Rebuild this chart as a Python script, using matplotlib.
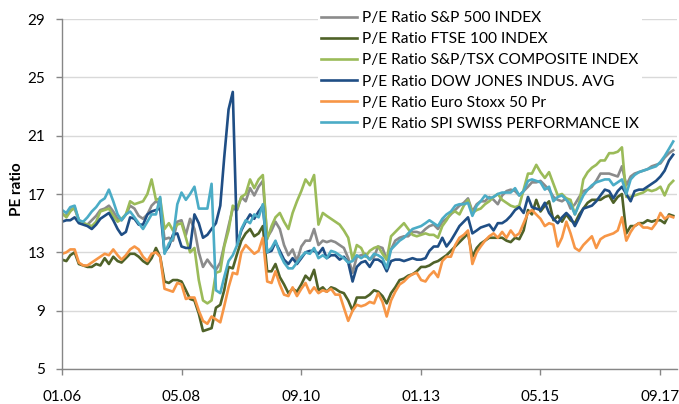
import matplotlib
matplotlib.use("Agg")
import matplotlib.pyplot as plt
import matplotlib.dates as mdates
import pandas as pd
import numpy as np

plt.rcParams['font.family'] = ['Lato', 'DejaVu Sans']

dates = pd.date_range('2006-01-01', periods=144, freq='MS')

sp500 = [15.6,15.5,15.9,16.0,15.2,15.0,14.9,15.2,15.5,15.9,16.0,16.2,
         15.8,15.3,15.2,15.6,16.2,16.0,15.5,15.3,15.6,16.2,16.5,16.3,
         13.9,14.0,13.8,15.1,15.2,14.2,15.3,14.6,13.0,12.0,12.5,12.1,
         11.8,12.3,13.5,14.8,16.0,15.9,16.8,16.5,17.4,16.9,17.5,17.9,
         14.0,14.5,15.1,14.6,13.5,12.8,13.2,12.4,13.4,13.8,13.8,14.6,
         13.5,13.8,13.7,13.8,13.7,13.5,13.3,12.6,11.6,12.7,12.8,12.9,
         12.5,12.7,13.4,13.3,12.5,13.2,13.8,14.0,14.1,14.1,14.4,14.4,
         14.3,14.6,14.8,14.9,14.6,15.1,15.3,15.6,15.9,16.2,16.4,16.7,
         15.8,16.3,16.5,16.5,16.8,16.6,16.3,16.9,17.2,17.3,17.2,16.9,
         17.2,17.5,17.8,17.8,17.9,17.6,17.3,16.8,16.6,16.5,16.7,16.0,
         16.3,16.8,17.2,17.3,17.5,17.9,18.4,18.4,18.4,18.3,18.2,18.9,
         17.6,18.2,18.4,18.5,18.6,18.7,18.9,19.0,19.1,19.5,19.8,20.0]

ftse = [12.5,12.4,12.8,13.0,12.2,12.1,12.0,12.0,12.2,12.1,12.6,12.2,
        12.7,12.4,12.3,12.6,12.9,12.9,12.7,12.4,12.2,12.6,13.3,12.7,
        11.0,10.9,11.1,11.1,11.0,10.4,9.8,9.7,8.8,7.6,7.7,7.8,
        9.2,9.4,10.4,12.0,11.9,12.9,13.8,14.3,14.6,14.1,14.3,14.8,
        11.7,11.7,12.2,11.3,10.8,10.2,10.5,10.3,10.8,11.4,11.1,11.8,
        10.4,10.6,10.3,10.6,10.5,10.3,10.2,9.7,9.0,9.9,9.9,9.9,
        10.1,10.4,10.3,10.0,9.5,10.2,10.6,11.1,11.2,11.4,11.5,11.7,
        12.0,12.0,12.1,12.3,12.4,12.6,12.8,13.1,13.4,13.7,14.0,14.3,
        12.7,13.3,13.6,13.8,14.0,14.0,14.0,14.0,13.8,13.7,14.0,13.9,
        14.5,15.9,15.6,16.6,15.8,16.2,16.5,15.2,15.5,15.1,15.6,15.2,
        15.0,15.6,16.0,16.4,16.6,16.6,16.6,16.8,16.9,16.4,16.8,17.0,
        14.3,14.8,14.8,15.0,15.0,15.2,15.1,15.2,15.2,15.0,15.6,15.5]

tsx = [15.7,15.4,15.8,16.1,15.2,15.0,14.9,14.8,15.1,15.8,15.9,16.0,
       15.5,15.1,15.3,15.6,16.5,16.3,16.4,16.5,17.0,18.0,16.6,16.7,
       14.6,15.0,14.5,14.9,15.0,14.0,13.0,13.3,11.1,9.7,9.5,9.7,
       11.6,11.7,13.4,14.5,16.2,16.0,16.8,17.0,18.0,17.4,18.0,18.3,
       13.9,14.8,15.4,15.7,15.1,14.6,15.7,16.5,17.2,18.0,17.6,18.3,
       14.9,15.7,15.5,15.3,15.1,14.9,14.5,14.0,12.5,13.5,13.3,12.7,
       13.1,13.3,13.4,12.9,12.5,14.1,14.4,14.7,15.0,14.6,14.2,14.1,
       14.2,14.3,14.2,14.2,14.0,14.8,15.2,15.7,15.8,15.6,16.2,16.6,
       15.7,15.9,16.0,16.3,16.5,16.8,17.0,16.6,16.4,16.2,16.1,16.2,
       17.3,18.4,18.4,19.0,18.5,18.1,18.5,17.7,16.9,17.0,16.7,16.6,
       15.6,16.4,18.0,18.5,18.8,19.0,19.3,19.3,19.8,19.8,19.9,20.2,
       16.8,16.8,16.9,17.0,17.1,17.3,17.2,17.3,17.5,16.9,17.6,17.9]

dow = [15.1,15.2,15.2,15.4,15.0,14.9,14.8,14.6,14.9,15.3,15.5,15.7,
       15.2,14.6,14.2,14.4,15.4,15.3,14.9,14.9,15.6,15.8,15.9,16.0,
       13.0,13.4,14.2,14.3,13.4,13.3,13.3,15.6,15.0,14.0,14.2,14.6,
       15.0,16.2,19.5,22.8,24.0,13.5,14.5,15.1,15.6,15.3,15.8,16.2,
       13.0,13.1,13.7,13.1,12.5,12.2,12.6,12.2,12.6,13.0,13.1,13.1,
       12.9,13.3,12.6,12.8,12.8,12.5,12.7,12.3,11.0,12.0,12.3,12.4,
       12.0,12.5,12.5,12.3,11.7,12.4,12.5,12.5,12.4,12.5,12.6,12.5,
       12.5,12.6,13.1,13.4,13.4,14.0,13.4,13.8,14.3,14.8,15.1,15.4,
       14.3,14.5,14.7,14.8,14.9,14.5,15.0,15.0,15.2,15.5,15.9,16.1,
       15.7,16.8,16.1,16.0,15.9,16.4,15.7,15.3,15.0,15.4,15.7,15.4,
       14.8,15.4,16.0,16.1,16.2,16.5,16.9,17.3,17.2,16.7,17.2,17.5,
       17.0,16.5,17.2,17.3,17.3,17.5,17.7,17.9,18.2,18.6,19.3,19.7]

stoxx = [12.9,13.0,13.2,13.2,12.3,12.1,12.1,12.3,12.5,12.7,12.9,12.8,
         13.2,12.8,12.5,12.8,13.2,13.4,13.2,12.7,12.4,12.9,13.0,12.7,
         10.5,10.4,10.3,10.9,10.8,9.8,9.9,9.9,9.0,8.3,8.1,8.6,
         8.4,8.2,9.3,10.6,11.6,11.5,13.0,13.5,13.2,12.9,13.1,14.0,
         11.0,10.9,11.7,10.8,10.1,10.0,10.6,10.0,10.5,10.9,10.2,10.6,
         10.2,10.4,10.3,10.5,10.1,10.1,9.2,8.3,9.0,9.4,9.3,9.4,
         9.6,9.5,10.2,9.6,8.6,9.7,10.3,10.8,11.0,11.3,11.5,11.6,
         11.1,11.0,11.4,11.7,11.3,12.4,12.7,12.7,13.5,14.0,14.2,14.5,
         12.2,13.0,13.4,13.8,14.1,14.3,14.0,14.4,14.0,14.5,14.1,14.3,
         15.0,15.7,15.9,15.6,15.3,14.8,15.0,14.9,13.4,14.0,15.1,14.3,
         13.3,13.1,13.5,13.8,14.1,13.3,13.9,14.1,14.2,14.3,14.5,15.4,
         13.8,14.4,14.8,15.0,14.7,14.7,14.6,15.0,15.7,15.3,15.5,15.4]

spi = [15.9,15.7,16.1,16.2,15.2,15.1,15.4,15.8,16.1,16.5,16.7,17.3,
       16.5,15.6,15.2,15.6,15.8,15.4,15.0,14.6,15.1,15.6,15.6,16.8,
       12.9,13.6,14.0,16.3,17.1,16.6,17.0,17.5,16.0,16.0,16.0,17.7,
       10.4,10.2,11.3,12.4,12.8,13.5,14.6,15.2,15.0,15.6,15.4,16.3,
       13.0,13.3,13.8,12.9,12.3,11.9,11.9,12.3,12.7,13.0,12.9,13.3,
       12.6,12.8,12.6,13.1,13.0,12.8,12.6,12.3,12.4,12.8,12.6,12.8,
       12.5,12.9,12.8,12.6,11.9,13.2,13.5,13.8,14.0,14.3,14.6,14.7,
       14.8,15.0,15.2,15.0,14.8,15.3,15.6,15.8,16.2,16.3,16.3,16.4,
       15.5,16.2,16.5,16.9,16.7,16.8,17.0,17.1,17.1,17.1,17.4,16.9,
       17.2,17.9,18.0,17.9,17.8,17.3,17.5,16.5,16.8,16.9,16.6,16.3,
       15.6,16.3,16.9,17.3,17.6,17.8,17.9,18.0,18.0,17.6,17.8,18.0,
       17.0,18.0,18.3,18.5,18.6,18.7,18.8,18.9,19.2,19.6,20.1,20.6]

series_names = ['P/E Ratio S&P 500 INDEX',
                'P/E Ratio FTSE 100 INDEX',
                'P/E Ratio S&P/TSX COMPOSITE INDEX',
                'P/E Ratio DOW JONES INDUS. AVG',
                'P/E Ratio Euro Stoxx 50 Pr',
                'P/E Ratio SPI SWISS PERFORMANCE IX']
series_vals = [sp500, ftse, tsx, dow, stoxx, spi]
colors = ['#8b8b8b', '#4f6228', '#9bbb59', '#1f4e85', '#f79646', '#4bacc6']

y_ticks = [5, 9, 13, 17, 21, 25, 29]
x_tick_idx = [0, 28, 56, 84, 112, 140]

W, H = 679, 404
fig = plt.figure(figsize=(W/100, H/100), dpi=100)
ax = fig.add_axes([62/W, 1-369/H, (677-62)/W, (369-19)/H])

for name, vals, c in zip(series_names, series_vals, colors):
    ax.plot(dates[:len(vals)], vals, color=c, lw=1.9, label=name,
            solid_joinstyle='round')

ax.set_ylim(5, 29)
ax.set_yticks(y_ticks)
ax.set_xlim(dates[0], dates[-1] + pd.Timedelta(days=27))
ax.set_xticks([dates[i] for i in x_tick_idx])
ax.xaxis.set_major_formatter(mdates.DateFormatter('%m.%y'))

ax.grid(axis='y', color='#d9d9d9', lw=1.0)
ax.set_axisbelow(True)
for s in ['top', 'right']:
    ax.spines[s].set_visible(False)
for s in ['left', 'bottom']:
    ax.spines[s].set_color('#868686')
    ax.spines[s].set_linewidth(1.0)
ax.tick_params(axis='both', colors='#868686', labelcolor='black',
               labelsize=11, length=4, width=1.0)
ax.tick_params(axis='x', pad=11)
ax.tick_params(axis='y', pad=8)

ax.set_ylabel('PE ratio', fontsize=11, fontweight='bold')
ax.yaxis.set_label_coords(-38/615, 0.514)

leg = ax.legend(loc='upper left', bbox_to_anchor=(318/W, 1-8/H),
                bbox_transform=fig.transFigure, fontsize=11.2,
                frameon=True, fancybox=False, framealpha=1,
                edgecolor='none', facecolor='white',
                handlelength=2.3, handletextpad=0.33, labelspacing=0.46,
                borderpad=0.2, borderaxespad=0)

fig.savefig('out.png', dpi=100)
